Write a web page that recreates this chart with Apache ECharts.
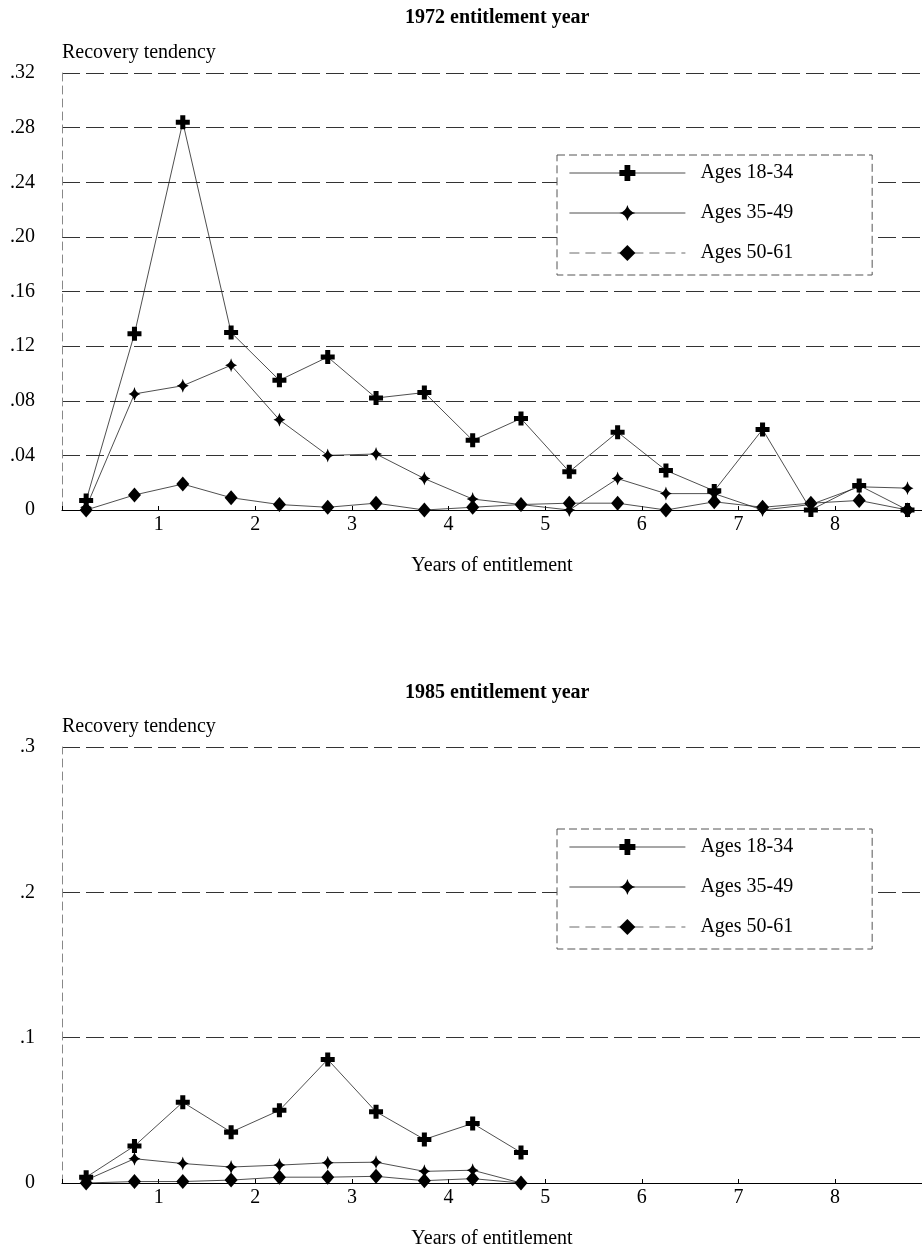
<!DOCTYPE html>
<html>
<head>
<meta charset="utf-8">
<script src="https://cdn.jsdelivr.net/npm/echarts@6/dist/echarts.min.js"></script>
<style>html,body{margin:0;padding:0;background:#fff}#c{width:922px;height:1250px}</style>
</head>
<body>
<div id="c"></div>
<script>
// ---- data ----
const seriesNames = ['Ages 18-34', 'Ages 35-49', 'Ages 50-61'];
const years1972 = [0.25,0.75,1.25,1.75,2.25,2.75,3.25,3.75,4.25,4.75,5.25,5.75,6.25,6.75,7.25,7.75,8.25,8.75];
const y1972_18_34 = [0.007,0.129,0.284,0.130,0.095,0.112,0.082,0.086,0.051,0.067,0.028,0.057,0.029,0.014,0.059,0.000,0.018,0.000];
const y1972_35_49 = [0.002,0.085,0.091,0.106,0.066,0.040,0.041,0.023,0.008,0.004,0.000,0.023,0.012,0.012,0.000,0.004,0.017,0.016];
const y1972_50_61 = [0.000,0.011,0.019,0.009,0.004,0.002,0.005,0.000,0.002,0.004,0.005,0.005,0.000,0.006,0.002,0.005,0.007,0.000];
const years1985 = [0.25,0.75,1.25,1.75,2.25,2.75,3.25,3.75,4.25,4.75];
const y1985_18_34 = [0.004,0.0255,0.0556,0.035,0.050,0.085,0.049,0.030,0.041,0.021];
const y1985_35_49 = [0.002,0.0167,0.0134,0.011,0.0123,0.0139,0.0143,0.008,0.0088,0.000];
const y1985_50_61 = [0.000,0.001,0.001,0.002,0.004,0.004,0.0046,0.0016,0.003,0.000];
const titles = ['1972 entitlement year', '1985 entitlement year'];
const yAxisName = 'Recovery tendency';
const xAxisName = 'Years of entitlement';

// ---- styling ----
const FONT = '"Liberation Serif", "DejaVu Serif", serif';
const FS = 20;
const PLUS = 'path://M3.2,0 H6.8 V3.2 H10 V6.8 H6.8 V10 H3.2 V6.8 H0 V3.2 H3.2 Z';
const STAR = 'path://M5,0 Q6,4 10,5 Q6,6 5,10 Q4,6 0,5 Q4,4 5,0 Z';
const symbols = [PLUS, STAR, 'diamond'];
const symSizes = [[14,14],[12,14],[13,15]];

function pairs(xs, ys){ return xs.map((x,i)=>[x, ys[i]]); }

function mkSeries(gi, xs, lists){
  return lists.map((ys, k)=>({
    name: seriesNames[k], type:'line', xAxisIndex:gi, yAxisIndex:gi,
    data: pairs(xs, ys), symbol: symbols[k], symbolSize: symSizes[k],
    showAllSymbol:true,
    lineStyle:{color:'#222', width:0.8}, itemStyle:{color:'#000'},
    emphasis:{disabled:true}, z: 5 - k, animation:false
  }));
}

const grids = [
  {left:62, right:0, top:73, height:437},
  {left:62, right:0, top:747, height:437}
];

function xAxisOf(gi){
  return {
    type:'value', gridIndex:gi, min:0, max:8.9, interval:1,
    axisLine:{show:true, lineStyle:{color:'#000', width:1.2}},
    axisTick:{show:true, inside:true, length:4, lineStyle:{color:'#000'}},
    splitLine:{show:false},
    axisLabel:{color:'#000', fontFamily:FONT, fontSize:FS, margin:5,
      showMaxLabel:false,
      formatter:v => (v>=1 && v<=8 && Number.isInteger(v)) ? String(v) : ''},
    name:xAxisName, nameLocation:'middle', nameGap:46,
    nameTextStyle:{color:'#000', fontFamily:FONT, fontSize:FS}
  };
}
function yAxisOf(gi, max, interval, fmt){
  return {
    type:'value', gridIndex:gi, min:0, max:max, interval:interval,
    axisLine:{show:true, lineStyle:{color:'#888', type:[8,5], width:1}},
    axisTick:{show:false},
    splitLine:{show:true, lineStyle:{color:'#333', type:[18,6], width:1}},
    axisLabel:{color:'#000', fontFamily:FONT, fontSize:FS, margin:27, formatter:fmt},
    name:yAxisName, nameLocation:'end', nameGap:10,
    nameTextStyle:{color:'#000', fontFamily:FONT, fontSize:FS, align:'left'}
  };
}

function legendOf(top){
  return {
    orient:'vertical', left:557, top:top,
    padding:[8,79,12,12], itemGap:20, itemWidth:116, itemHeight:20,
    backgroundColor:'#fff', borderColor:'#555', borderWidth:1, borderType:[8,4],
    textStyle:{color:'#000', fontFamily:FONT, fontSize:FS, padding:[0,0,0,10]},
    data: seriesNames.map((n,k)=>({name:n, lineStyle: k===2 ? {type:[10,6], color:'#444', width:0.8} : {color:'#222', width:0.8}}))
  };
}

const titleStyle = {fontFamily:FONT, fontSize:FS, fontWeight:'bold', color:'#000'};

const chart = echarts.init(document.getElementById('c'), null, {renderer:'canvas'});
chart.setOption({
  animation:false,
  backgroundColor:'#fff',
  title:[
    {text:titles[0], left:405, top:8, padding:0, textStyle:titleStyle},
    {text:titles[1], left:405, top:683, padding:0, textStyle:titleStyle}
  ],
  grid: grids,
  legend:[legendOf(155), legendOf(829)],
  xAxis:[xAxisOf(0), xAxisOf(1)],
  yAxis:[
    yAxisOf(0, 0.32, 0.04, v => v===0 ? '0' : v.toFixed(2).replace(/^0/, '')),
    yAxisOf(1, 0.3, 0.1, v => v===0 ? '0' : v.toFixed(1).replace(/^0/, ''))
  ],
  series:[
    ...mkSeries(0, years1972, [y1972_18_34, y1972_35_49, y1972_50_61]),
    ...mkSeries(1, years1985, [y1985_18_34, y1985_35_49, y1985_50_61])
  ]
});
</script>
</body>
</html>
